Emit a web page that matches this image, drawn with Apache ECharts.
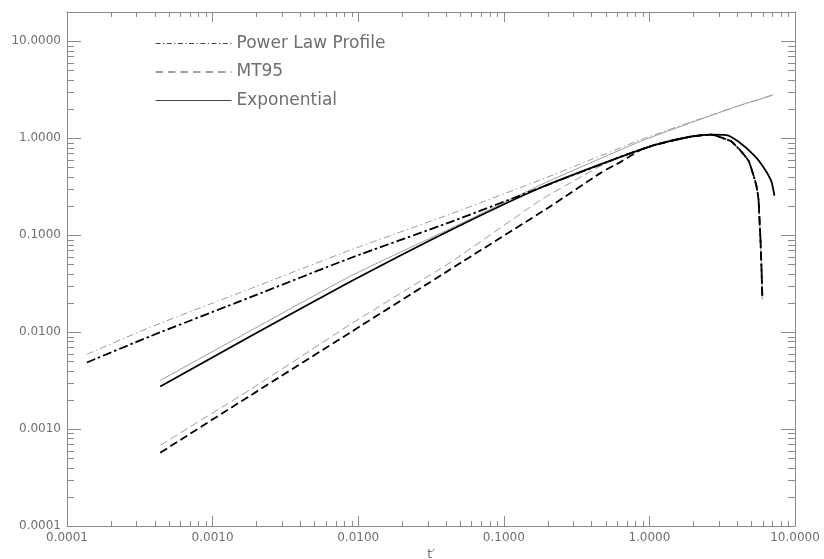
<!DOCTYPE html>
<html>
<head>
<meta charset="utf-8">
<script src="https://cdn.jsdelivr.net/npm/echarts@6/dist/echarts.min.js"></script>
<style>
html,body{margin:0;padding:0;background:#fff;}
#chart{width:824px;height:559px;}
</style>
</head>
<body>
<div id="chart"></div>
<script>
// ---- Data ----
// Power Law Profile, thin grey
const powGreyX = [1.37e-4, 3.73e-4, 1.82e-3, 8.87e-3, 0.0433, 0.18, 0.397, 0.878, 2.27, 4.28, 7.1];
const powGreyY = [0.00589, 0.01121, 0.02806, 0.07027, 0.1658, 0.3727, 0.6005, 0.967, 1.595, 2.201, 2.794];
// Power Law Profile, thick black
const powBlackX = [1.37e-4, 3.73e-4, 1.82e-3, 8.87e-3, 0.0433, 0.18, 0.64, 1.11, 1.94, 2.66, 3.27, 3.66, 4.28, 4.79, 5.02, 5.43, 5.61, 5.70, 5.79, 5.88, 5.97];
const powBlackY = [0.00486, 0.00905, 0.0229, 0.0581, 0.137, 0.31, 0.645, 0.859, 1.04, 1.085, 0.99, 0.923, 0.726, 0.586, 0.484, 0.323, 0.237, 0.147, 0.0914, 0.048, 0.0219];
// MT95, thin grey
const mtGreyX = [4.37e-4, 1.82e-3, 8.87e-3, 0.0433, 0.18, 0.34, 0.466, 0.64, 0.878, 1.11, 1.94, 2.66, 3.27, 3.66, 4.28, 4.79, 5.02, 5.43, 5.61, 5.70, 5.79, 5.88, 5.97];
const mtGreyY = [6.8e-4, 2.56e-3, 0.01205, 0.0528, 0.231, 0.400, 0.520, 0.645, 0.765, 0.859, 1.04, 1.085, 0.99, 0.923, 0.726, 0.586, 0.484, 0.323, 0.237, 0.147, 0.0914, 0.048, 0.0219];
// MT95, thick black
const mtBlackX = [4.37e-4, 1.82e-3, 8.87e-3, 0.0433, 0.211, 0.466, 0.64, 0.878, 1.11, 1.94, 2.66, 3.27, 3.66, 4.28, 4.79, 5.02, 5.43, 5.61, 5.70, 5.79, 5.88, 5.97];
const mtBlackY = [5.7e-4, 2.22e-3, 9.95e-3, 0.0447, 0.200, 0.441, 0.573, 0.76, 0.859, 1.04, 1.085, 0.99, 0.923, 0.726, 0.586, 0.484, 0.323, 0.237, 0.147, 0.0914, 0.048, 0.0219];
// Exponential, thin grey
const expGreyX = [4.37e-4, 1.82e-3, 8.87e-3, 0.0433, 0.18, 0.397, 0.878, 2.27, 4.28, 7.1];
const expGreyY = [0.00317, 0.01032, 0.03781, 0.1173, 0.3309, 0.559, 0.933, 1.576, 2.201, 2.794];
// Exponential, thick black
const expBlackX = [4.37e-4, 1.82e-3, 8.87e-3, 0.0433, 0.18, 0.64, 1.11, 1.94, 2.66, 3.38, 4.08, 5.26, 6.17, 6.89, 7.22];
const expBlackY = [0.00275, 0.00906, 0.0332, 0.113, 0.31, 0.645, 0.859, 1.04, 1.085, 1.075, 0.923, 0.661, 0.484, 0.356, 0.255];

const legendNames = ['Power Law Profile', 'MT95', 'Exponential'];
const xTickLabels = ['0.0001', '0.0010', '0.0100', '0.1000', '1.0000', '10.0000'];
const yTickLabels = ['0.0001', '0.0010', '0.0100', '0.1000', '1.0000', '10.0000'];
const xAxisName = 't\u2032';

// ---- Axis ranges ----
const X_MIN = 0.0001, X_MAX = 10;
const Y_MIN = 0.0001, Y_MAX = 20;

// minor tick positions (2..9 in each decade)
function minorTicks(lo, hi) {
  const out = [];
  for (let d = lo; d < hi; d++) {
    for (let m = 2; m <= 9; m++) out.push(+(m * Math.pow(10, d)).toPrecision(6));
  }
  return out;
}
const xMinor = minorTicks(-4, 1);
const yMinor = minorTicks(-4, 1);

const pair = (xs, ys) => xs.map((x, i) => [x, ys[i]]);

const AX = '#8a8a8a';
const TXT = '#6e6e6e';
const FONT = 'DejaVu Sans';

const DASHDOT_GREY = [7, 3, 1.5, 3];
const DASHDOT_BLACK = [9, 3, 2.5, 3];
const DASH = [8, 4];

function fmt(v) {
  const s = Number(v).toFixed(4);
  return (xTickLabels.indexOf(s) >= 0 || yTickLabels.indexOf(s) >= 0) ? s : '';
}

const chart = echarts.init(document.getElementById('chart'), null, {renderer: 'canvas'});

const crisp = v => Math.round(v) + 0.5;
const noSym = {color: 'rgba(0,0,0,0)', opacity: 0, borderWidth: 0};

const option = {
  animation: false,
  backgroundColor: '#fff',
  textStyle: {fontFamily: FONT},
  grid: {left: 67, right: 29, top: 12, bottom: 33, containLabel: false, outerBoundsMode: 'none'},
  legend: {
    show: true,
    orient: 'vertical',
    left: 155,
    top: 35,
    padding: 0,
    itemWidth: 76,
    itemHeight: 14,
    itemGap: 11.5,
    itemStyle: noSym,
    textStyle: {color: TXT, fontSize: 17, fontFamily: FONT},
    data: [
      {name: legendNames[0], itemStyle: noSym, lineStyle: {color: '#444', width: 1, type: [5, 2.5, 1.2, 2.5]}},
      {name: legendNames[1], itemStyle: noSym, lineStyle: {color: '#444', width: 1, type: [7.5, 5]}},
      {name: legendNames[2], itemStyle: noSym, lineStyle: {color: '#444', width: 1, type: 'solid'}}
    ]
  },
  xAxis: [
    {
      type: 'log', logBase: 10, min: X_MIN, max: X_MAX, position: 'bottom',
      name: xAxisName, nameLocation: 'middle', nameGap: 17,
      nameTextStyle: {color: TXT, fontSize: 12, fontFamily: FONT},
      axisLine: {show: true, lineStyle: {color: AX, width: 1}},
      axisTick: {show: true, inside: true, length: 10, lineStyle: {color: AX}},
      axisLabel: {color: TXT, fontSize: 12, fontFamily: FONT, margin: 6, formatter: fmt, showMinLabel: true, showMaxLabel: true},
      splitLine: {show: false}
    },
    {
      type: 'log', logBase: 10, min: X_MIN, max: X_MAX, position: 'top',
      axisLine: {show: true, lineStyle: {color: AX, width: 1}},
      axisTick: {show: true, inside: true, length: 10, lineStyle: {color: AX}},
      axisLabel: {show: false},
      splitLine: {show: false}
    }
  ],
  yAxis: [
    {
      type: 'log', logBase: 10, min: Y_MIN, max: Y_MAX, position: 'left',
      axisLine: {show: true, lineStyle: {color: AX, width: 1}},
      axisTick: {show: true, inside: true, length: 14, lineStyle: {color: AX}},
      axisLabel: {color: TXT, fontSize: 12, fontFamily: FONT, margin: 6, formatter: fmt, showMaxLabel: false},
      splitLine: {show: false}
    },
    {
      type: 'log', logBase: 10, min: Y_MIN, max: Y_MAX, position: 'right',
      axisLine: {show: true, lineStyle: {color: AX, width: 1}},
      axisTick: {show: true, inside: true, length: 14, lineStyle: {color: AX}},
      axisLabel: {show: false},
      splitLine: {show: false}
    }
  ],
  series: [
    {
      type: 'custom', name: 'xminor', silent: true, clip: false, z: 1,
      xAxisIndex: 0, yAxisIndex: 0,
      data: xMinor.map(v => [v, Y_MIN]),
      encode: {x: 0, y: 1},
      renderItem: function (params, api) {
        const v = api.value(0);
        const b = api.coord([v, Y_MIN]);
        const t = api.coord([v, Y_MAX]);
        const x = crisp(b[0]);
        const st = {stroke: AX, lineWidth: 1};
        return {type: 'group', children: [
          {type: 'line', shape: {x1: x, y1: b[1], x2: x, y2: b[1] - 5}, style: st},
          {type: 'line', shape: {x1: x, y1: t[1], x2: x, y2: t[1] + 5}, style: st}
        ]};
      }
    },
    {
      type: 'custom', name: 'yminor', silent: true, clip: false, z: 1,
      xAxisIndex: 0, yAxisIndex: 0,
      data: yMinor.map(v => [X_MIN, v]),
      encode: {x: 0, y: 1},
      renderItem: function (params, api) {
        const v = api.value(1);
        const l = api.coord([X_MIN, v]);
        const r = api.coord([X_MAX, v]);
        const y = crisp(l[1]);
        const st = {stroke: AX, lineWidth: 1};
        return {type: 'group', children: [
          {type: 'line', shape: {x1: l[0], y1: y, x2: l[0] + 7, y2: y}, style: st},
          {type: 'line', shape: {x1: r[0], y1: y, x2: r[0] - 7, y2: y}, style: st}
        ]};
      }
    },
    {
      type: 'line', name: 'Power Law Profile (grey)', data: pair(powGreyX, powGreyY),
      symbol: 'none', smooth: 0.2, z: 2,
      lineStyle: {color: '#9c9c9c', width: 1, type: DASHDOT_GREY}
    },
    {
      type: 'line', name: 'MT95 (grey)', data: pair(mtGreyX, mtGreyY),
      symbol: 'none', smooth: 0.2, z: 2,
      lineStyle: {color: '#9c9c9c', width: 1, type: DASH}
    },
    {
      type: 'line', name: 'Exponential (grey)', data: pair(expGreyX, expGreyY),
      symbol: 'none', smooth: 0.2, z: 2,
      lineStyle: {color: '#9c9c9c', width: 1, type: 'solid'}
    },
    {
      type: 'line', name: legendNames[0], data: pair(powBlackX, powBlackY),
      symbol: 'none', smooth: 0.2, z: 3,
      lineStyle: {color: '#000', width: 1.8, type: DASHDOT_BLACK}
    },
    {
      type: 'line', name: legendNames[1], data: pair(mtBlackX, mtBlackY),
      symbol: 'none', smooth: 0.2, z: 3,
      lineStyle: {color: '#000', width: 1.8, type: DASH}
    },
    {
      type: 'line', name: legendNames[2], data: pair(expBlackX, expBlackY),
      symbol: 'none', smooth: 0.2, z: 3,
      lineStyle: {color: '#000', width: 1.8, type: 'solid'}
    }
  ]
};
chart.setOption(option);
</script>
</body>
</html>
